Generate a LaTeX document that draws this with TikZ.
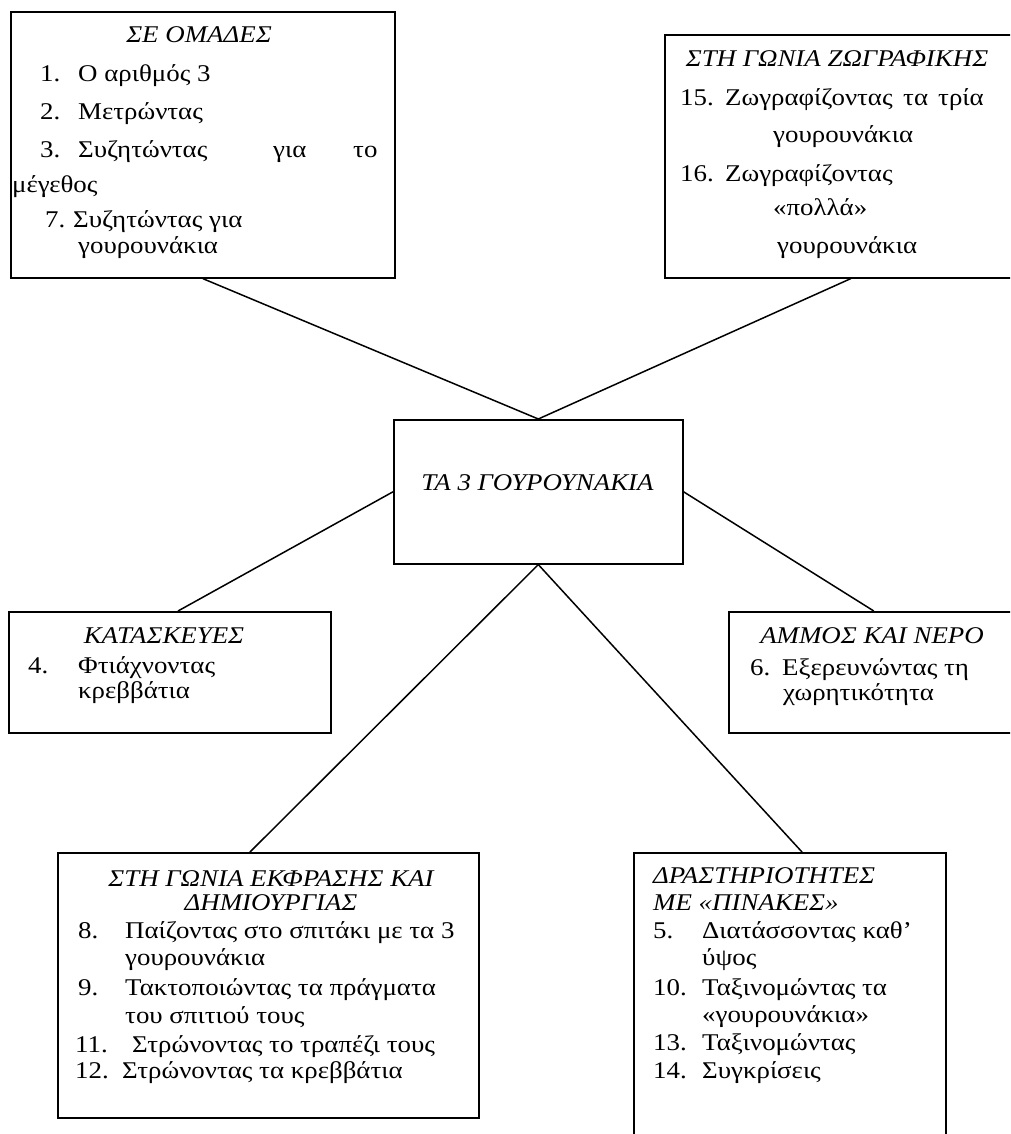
\documentclass[tikz,border=0pt]{standalone}
\usepackage{fontspec}
\setmainfont{Liberation Serif}[FakeStretch=1.12]
\usetikzlibrary{positioning}
\newcommand{\boxfont}{\fontsize{24}{27}\selectfont}
\tikzstyle{box}=[draw,line width=1.6pt,rectangle,inner sep=0,anchor=north west]
\tikzstyle{ttl}=[font=\boxfont\itshape,anchor=base,inner sep=0]
\tikzstyle{ttlw}=[font=\boxfont\itshape,anchor=base west,inner sep=0]
\tikzstyle{itm}=[font=\boxfont,anchor=base west,inner sep=0]
\tikzstyle{link}=[line width=1.5pt]

\begin{document}
\begin{tikzpicture}[x=1pt,y=-1pt]
\useasboundingbox (0,0) rectangle (1010,1134);
\clip (0,0) rectangle (1010,1134);
% the boxes
\node[box,minimum width=384pt,minimum height=266pt] (omades) at (10,11) {};
\node[box,minimum width=372pt,minimum height=243pt] (zografiki) at (664,34) {};
\node[box,minimum width=289pt,minimum height=144pt] (center) at (393,419) {};
\node[box,minimum width=322pt,minimum height=121pt] (kataskeves) at (8,611) {};
\node[box,minimum width=290pt,minimum height=121pt] (ammos) at (728,611) {};
\node[box,minimum width=421pt,minimum height=265pt] (ekfrasi) at (57,852) {};
\node[box,minimum width=312pt,minimum height=320pt] (pinakes) at (633,852) {};
% the links
\draw[link] (omades.south) -- (center.north);
\draw[link] (zografiki.south) -- (center.north);
\draw[link] (center.west) -- ([xshift=170pt]kataskeves.north west);
\draw[link] (center.east) -- (ammos.north);
\draw[link] (center.south) -- ([xshift=193pt]ekfrasi.north west);
\draw[link] (center.south) -- ([xshift=169pt]pinakes.north west);
% titles
\node[ttl] (t-center) at (537.5,490) {ΤΑ 3 ΓΟΥΡΟΥΝΑΚΙΑ};
\node[ttl] (t-omades) at (199,43) {ΣΕ ΟΜΑΔΕΣ};
\node[ttl] (t-zografiki) at (837,67) {ΣΤΗ ΓΩΝΙΑ ΖΩΓΡΑΦΙΚΗΣ};
\node[ttl] (t-kataskeves) at (164,643) {ΚΑΤΑΣΚΕΥΕΣ};
\node[ttl] (t-ammos) at (872,643) {ΑΜΜΟΣ ΚΑΙ ΝΕΡΟ};
\node[ttl] (t-ekfrasi) at (271,886) {ΣΤΗ ΓΩΝΙΑ ΕΚΦΡΑΣΗΣ ΚΑΙ};
\node[ttl] (t-ekfrasi2) at (271,910) {ΔΗΜΙΟΥΡΓΙΑΣ};
\node[ttlw] (t-pinakes) at (653,883) {ΔΡΑΣΤΗΡΙΟΤΗΤΕΣ};
\node[ttlw] (t-pinakes2) at (653,910) {ΜΕ «ΠΙΝΑΚΕΣ»};
% the lists
\foreach \x/\y/\t in {40/82/1., 78/82/Ο αριθμός 3, 40/120/2., 78/120/Μετρώντας,
  40/158/3., 78/158/Συζητώντας, 273/158/για, 353/158/το, 12/193/μέγεθος,
  45/227/7., 73/227/Συζητώντας για, 78/253/γουρουνάκια}
  \node[itm] at (\x,\y) {\t};
\foreach \x/\y/\t in {680/106/15., 725/106/Ζωγραφίζοντας, 903/106/τα, 938/106/τρία,
  773/143/γουρουνάκια, 680/182/16., 725/182/Ζωγραφίζοντας,
  773/215/«πολλά», 777/253/γουρουνάκια}
  \node[itm] at (\x,\y) {\t};
\foreach \x/\y/\t in {28/673/4., 78/673/Φτιάχνοντας, 78/698/κρεββάτια}
  \node[itm] at (\x,\y) {\t};
\foreach \x/\y/\t in {750/675/6., 782/675/Εξερευνώντας τη, 783/700/χωρητικότητα}
  \node[itm] at (\x,\y) {\t};
\foreach \x/\y/\t in {78/938/8., 125/938/Παίζοντας στο σπιτάκι με τα 3,
  125/965/γουρουνάκια, 78/995/9., 125/995/Τακτοποιώντας τα πράγματα,
  125/1023/του σπιτιού τους, 75/1052/11., 132/1052/Στρώνοντας το τραπέζι τους,
  75/1078/12., 122/1078/Στρώνοντας τα κρεββάτια}
  \node[itm] at (\x,\y) {\t};
\foreach \x/\y/\t in {653/938/5., 702/938/Διατάσσοντας καθ’, 702/965/ύψος,
  653/995/10., 702/995/Ταξινομώντας τα, 702/1022/«γουρουνάκια»,
  653/1050/13., 702/1050/Ταξινομώντας, 653/1078/14., 702/1078/Συγκρίσεις}
  \node[itm] at (\x,\y) {\t};
\end{tikzpicture}
\end{document}
